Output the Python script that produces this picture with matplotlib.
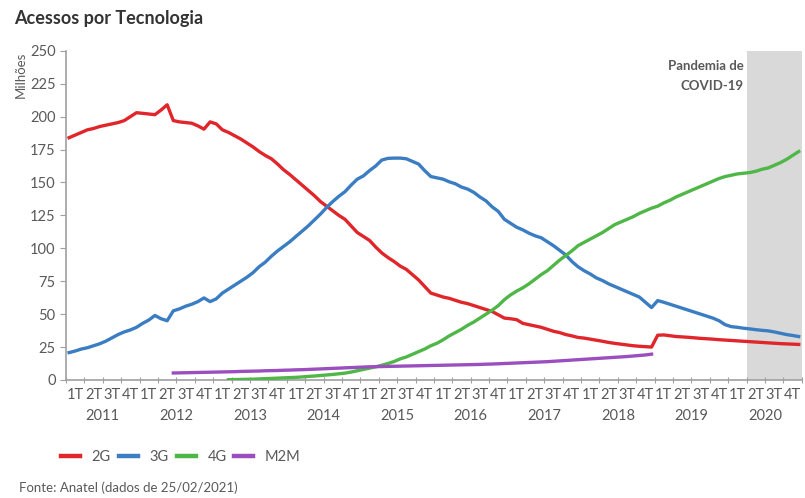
import numpy as np
import matplotlib
matplotlib.use('Agg')
import matplotlib.pyplot as plt

plt.rcParams['font.family'] = ['Lato', 'DejaVu Sans']

# Dados mensais (milhões de acessos), jan/2011 a dez/2020
anos = ['2011', '2012', '2013', '2014', '2015', '2016', '2017', '2018', '2019', '2020']
trimestres = ['1T', '2T', '3T', '4T']

acessos_2g = [
    184, 186, 188, 190, 191, 192.5, 193.5, 194.5, 195.5, 197, 200, 203,
    202.5, 202, 201.5, 205, 209, 197, 196, 195.5, 195, 193, 190.5, 196,
    194.5, 190, 188, 185.5, 183, 180, 177, 173.5, 170.5, 168, 164, 159.6,
    156, 152, 148, 144, 140, 135.5, 132, 128.5, 125, 122, 117, 112,
    109, 106, 101, 96.5, 93, 90, 86.5, 84, 80, 76, 71, 66,
    64.5, 63, 62, 60.5, 59, 58, 56.5, 55, 53.5, 52, 49.5, 47,
    46.5, 45.8, 43, 42, 41, 40, 38.5, 37, 36, 34.5, 33.5, 32.3,
    31.8, 31, 30.2, 29.4, 28.5, 27.8, 27.2, 26.6, 26, 25.6, 25.3, 25,
    34, 34.2, 33.6, 33, 32.7, 32.4, 32, 31.6, 31.3, 31, 30.6, 30.3,
    30, 29.7, 29.4, 29.1, 28.8, 28.5, 28.2, 27.9, 27.6, 27.4, 27.2, 27,
]

acessos_3g = [
    20.8, 22, 23.5, 24.5, 26, 27.5, 29.5, 32, 34.5, 36.5, 38, 40,
    43, 45.5, 49, 46.5, 45, 52.5, 54, 56, 57.5, 59.5, 62.3, 59.5,
    61.6, 66, 69, 72, 75, 78, 81.5, 86, 89.5, 94, 98, 101.5,
    105, 109, 113, 117, 121.5, 126, 131, 135.5, 139.5, 143, 148, 152.5,
    155, 159, 162.5, 167, 168.3, 168.5, 168.5, 168, 166, 164, 159, 154.5,
    153.5, 152.5, 150.5, 149, 146.5, 145, 142.5, 139, 136, 131.5, 128, 122,
    119, 116, 114, 111.5, 109.5, 108, 105, 102, 98.5, 95, 90, 86,
    83, 80.5, 77.5, 75.5, 73, 71, 69, 67, 65, 63, 59, 55,
    60.3, 59, 57.5, 56, 54.5, 53, 51.5, 50, 48.5, 47, 45, 42,
    40.5, 40, 39.3, 38.8, 38.2, 37.7, 37.3, 36.5, 35.5, 34.5, 33.8, 33,
]

inicio_4g = 26  # mar/2013
acessos_4g = [
    0.2, 0.3, 0.4, 0.5, 0.6, 0.8, 1.0, 1.2, 1.4, 1.6,
    1.8, 2.0, 2.3, 2.7, 3.0, 3.4, 3.8, 4.2, 4.7, 5.2, 6.0, 7.0,
    8.0, 9.0, 10.0, 11.2, 12.5, 14.0, 16.0, 17.5, 19.5, 21.5, 23.5, 26.0,
    27.9, 30.5, 33.5, 36, 38.5, 41.5, 44, 47, 50, 53, 56.5, 61,
    64.6, 67.5, 70, 73, 76.5, 80, 83, 87, 91, 94.5, 98, 102,
    104.5, 107, 109.5, 112, 115, 118, 120, 122, 124, 126.5, 128.5, 130.5,
    132, 134.5, 136.5, 139, 141, 143, 145, 147, 149, 151, 153, 154.5,
    155.5, 156.5, 157, 157.5, 158.5, 160, 161, 163, 165, 167.5, 170.5, 173.5,
]

inicio_m2m = 17  # jun/2012
acessos_m2m = [
    5.3, 5.4, 5.5, 5.6, 5.7, 5.8, 5.9,
    6.0, 6.1, 6.2, 6.3, 6.5, 6.6, 6.7, 6.8, 7.0, 7.1, 7.2, 7.4,
    7.5, 7.7, 7.8, 8.0, 8.2, 8.4, 8.6, 8.8, 9.0, 9.2, 9.4, 9.6,
    9.8, 10.0, 10.1, 10.2, 10.3, 10.4, 10.5, 10.6, 10.7, 10.8, 10.9, 11.0,
    11.1, 11.2, 11.3, 11.4, 11.5, 11.6, 11.7, 11.8, 12.0, 12.1, 12.3, 12.5,
    12.7, 12.9, 13.1, 13.3, 13.5, 13.7, 13.9, 14.2, 14.5, 14.8, 15.1, 15.4,
    15.7, 16.0, 16.3, 16.6, 16.9, 17.2, 17.5, 17.8, 18.2, 18.6, 19.0, 19.6,
]

cinza = '#595959'
fig = plt.figure(figsize=(8.05, 4.98), dpi=100)
ax = fig.add_axes([0.082, 0.237, 0.914, 0.661])

meses = np.arange(len(acessos_2g))
n = len(meses)

# periodo da pandemia (a partir do fim do 1T de 2020)
ax.axvspan(110.5, n - 0.5, color='#d9d9d9', lw=0, zorder=0)

ax.plot(meses, acessos_2g, color='#e0262b', lw=2.4, label='2G', zorder=3)
ax.plot(meses, acessos_3g, color='#3a7dc2', lw=2.4, label='3G', zorder=3)
ax.plot(np.arange(inicio_4g, inicio_4g + len(acessos_4g)), acessos_4g,
        color='#4fb648', lw=2.4, label='4G', zorder=3)
ax.plot(np.arange(inicio_m2m, inicio_m2m + len(acessos_m2m)), acessos_m2m,
        color='#9b4fbf', lw=2.4, label='M2M', zorder=3)

ax.set_xlim(-0.5, n - 0.5)
ax.set_ylim(0, 250)
ax.set_yticks(np.arange(0, 251, 25))

# ticks nas fronteiras dos trimestres, rotulos no meio
ax.set_xticks(np.arange(-0.5, n, 3))
ax.set_xticklabels([])
ax.set_xticks(np.arange(1, n, 3), minor=True)
ax.set_xticklabels(trimestres * len(anos), minor=True)
ax.tick_params(axis='x', which='minor', length=0, pad=6, labelsize=10.5, colors=cinza)
ax.tick_params(axis='x', which='major', length=4, color='#a0a0a0', direction='inout')
ax.tick_params(axis='y', length=4, color='#a0a0a0', labelsize=10.5, colors=cinza)

for i, ano in enumerate(anos):
    ax.annotate(ano, xy=(i * 12 + 5.5, 0), xycoords=('data', 'axes fraction'),
                xytext=(0, -31), textcoords='offset points',
                ha='center', va='bottom', fontsize=10.5, color=cinza)

for lado in ['top', 'right']:
    ax.spines[lado].set_visible(False)
for lado in ['left', 'bottom']:
    ax.spines[lado].set_color('#a0a0a0')
    ax.spines[lado].set_linewidth(1.2)

ax.text(110, 243, 'Pandemia de\nCOVID-19', ha='right', va='top',
        fontsize=9.5, fontweight='bold', color=cinza, linespacing=1.8)

fig.text(0.026, 0.897, 'Milhões', rotation=90, ha='center', va='top',
         fontsize=9.5, color=cinza)
fig.text(0.017, 0.962, 'Acessos por Tecnologia', ha='left', va='center',
         fontsize=13, fontweight='bold', color='#333333')
fig.text(0.024, 0.02, 'Fonte: Anatel (dados de 25/02/2021)', ha='left', va='center',
         fontsize=9.5, color=cinza)

fig.legend(loc='center left', bbox_to_anchor=(0.076, 0.082), ncol=4, frameon=False,
           fontsize=10.5, handlelength=1.3, handletextpad=0.8, columnspacing=0.55,
           labelcolor=cinza, borderpad=0, borderaxespad=0)
for linha in fig.legends[0].get_lines():
    linha.set_linewidth(3.2)

fig.savefig('out.png', dpi=100)
